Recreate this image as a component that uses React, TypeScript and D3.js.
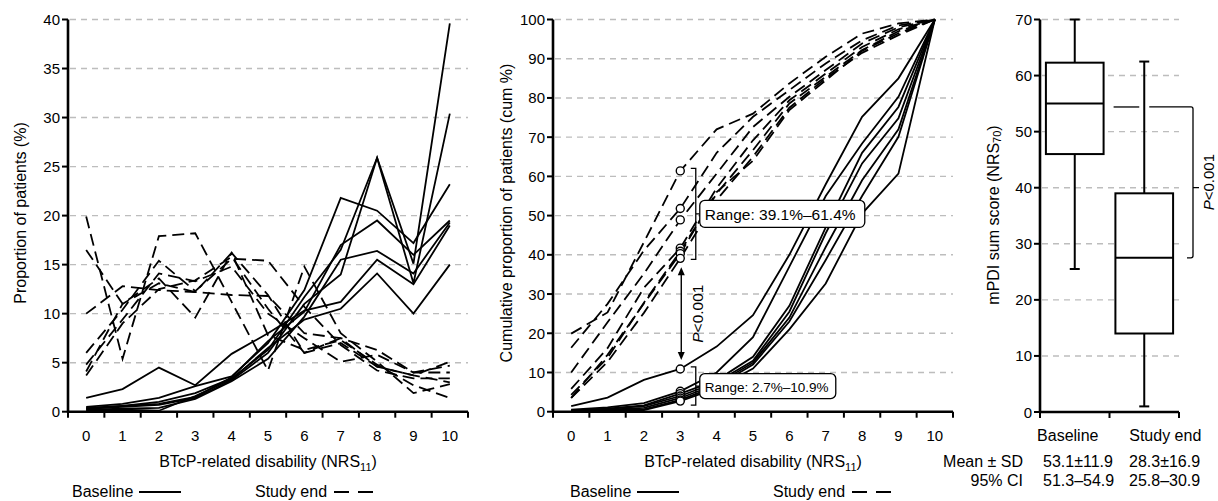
import React from 'react';
import * as d3 from 'd3';

// ---------------- DATA ----------------
const categories = [0, 1, 2, 3, 4, 5, 6, 7, 8, 9, 10];
const propYTicks = [0, 5, 10, 15, 20, 25, 30, 35, 40];
const cumYTicks = [0, 10, 20, 30, 40, 50, 60, 70, 80, 90, 100];
const boxYTicks = [0, 10, 20, 30, 40, 50, 60, 70];

// Proportion of patients (%) – baseline (solid)
const baselineProp = [
  [1.4, 2.3, 4.5, 2.7, 5.9, 8.0, 10.3, 11.2, 15.5, 13.0, 19.0],
  [0.5, 0.8, 1.4, 2.6, 3.6, 7.0, 12.4, 21.8, 20.5, 17.2, 23.2],
  [0.3, 0.6, 1.0, 1.9, 3.4, 6.3, 11.7, 16.5, 25.9, 15.1, 39.6],
  [0.3, 0.5, 0.7, 1.4, 3.2, 6.0, 11.0, 14.0, 25.9, 13.1, 30.4],
  [0.4, 0.6, 0.8, 1.5, 3.5, 7.2, 10.2, 17.0, 19.5, 16.0, 19.5],
  [0.2, 0.3, 0.4, 1.3, 3.1, 5.4, 9.7, 15.5, 16.4, 14.1, 19.3],
  [0.1, 0.2, 0.1, 1.6, 3.3, 6.5, 9.4, 10.5, 14.1, 10.0, 15.0],
];
// Proportion of patients (%) – study end (dashed)
const studyEndProp = [
  [19.9, 5.4, 17.9, 18.2, 11.2, 4.2, 14.8, 8.0, 5.1, 1.9, 2.8],
  [16.5, 11.0, 13.6, 9.6, 16.2, 11.9, 6.0, 7.0, 4.6, 3.7, 5.1],
  [10.0, 12.8, 12.4, 12.2, 11.9, 11.8, 8.0, 7.5, 6.3, 4.0, 4.7],
  [6.0, 10.4, 15.4, 12.3, 15.6, 15.4, 10.7, 6.8, 4.2, 3.4, 3.4],
  [4.8, 9.4, 14.1, 13.3, 14.8, 10.0, 7.5, 5.1, 5.8, 4.0, 4.0],
  [4.1, 11.0, 13.1, 12.2, 16.2, 7.8, 6.3, 7.3, 4.8, 2.7, 1.4],
  [3.7, 9.0, 12.5, 13.4, 15.8, 10.5, 6.0, 7.5, 4.6, 3.7, 3.0],
];
// Cumulative proportion (cum %) – baseline (solid)
const baselineCum = [
  [1.4, 3.6, 8.1, 10.9, 16.6, 24.6, 40.0, 58.0, 75.2, 85.0, 100],
  [0.5, 1.1, 2.2, 5.2, 10.0, 19.0, 37.0, 55.0, 68.4, 80.3, 100],
  [0.3, 0.8, 1.6, 4.6, 8.0, 14.0, 27.0, 47.0, 66.0, 77.7, 100],
  [0.3, 0.7, 1.4, 4.0, 7.5, 13.0, 25.5, 45.5, 63.3, 74.8, 100],
  [0.2, 0.5, 1.0, 3.5, 7.0, 12.5, 24.0, 42.0, 59.0, 72.0, 100],
  [0.1, 0.3, 0.6, 3.0, 6.5, 12.0, 23.0, 38.7, 55.0, 70.1, 100],
  [0.1, 0.2, 0.4, 2.7, 6.0, 11.0, 21.0, 32.7, 50.5, 60.7, 100],
];
// Cumulative proportion (cum %) – study end (dashed)
const studyEndCum = [
  [19.9, 25.3, 43.2, 61.4, 72.0, 76.0, 83.7, 90.5, 96.4, 99.0, 100],
  [16.3, 27.5, 41.1, 51.8, 66.0, 75.2, 82.0, 88.8, 94.7, 98.5, 100],
  [10.0, 22.8, 35.2, 48.9, 60.7, 72.6, 80.3, 87.1, 93.9, 98.0, 100],
  [5.8, 16.2, 31.6, 41.7, 57.0, 69.2, 79.4, 86.2, 93.0, 97.5, 100],
  [4.3, 13.7, 27.8, 40.9, 55.6, 66.7, 78.6, 85.4, 92.2, 97.0, 100],
  [3.5, 14.5, 27.6, 40.3, 56.0, 64.0, 76.9, 84.5, 92.0, 96.5, 100],
  [3.5, 12.7, 25.2, 39.1, 54.0, 65.0, 77.5, 85.0, 91.5, 96.0, 100],
];

// Box plot (mPDI sum score)
const boxCategories = ['Baseline', 'Study end'];
const boxMin = [25.5, 1];
const boxQ1 = [46, 14];
const boxMedian = [55, 27.5];
const boxQ3 = [62.3, 39];
const boxMax = [70, 62.5];
const meanSD = ['53.1±11.9', '28.3±16.9'];
const ci95 = ['51.3–54.9', '25.8–30.9'];

const highlightIndex = 3;

// ---------------- STYLE ----------------
const FONT = "'Liberation Sans', Arial, Helvetica, sans-serif";
const DASH = '12,6';
const GRID = '#bdbdbd';
const TICK_FS = 15;
const TITLE_FS = 16;

function XTitle({ cx, y }: { cx: number; y: number }) {
  return (
    <text x={cx} y={y} textAnchor="middle" fontSize={TITLE_FS} fontFamily={FONT}>
      BTcP-related disability (NRS
      <tspan fontSize={11} dy={4}>11</tspan>
      <tspan dy={-4}>)</tspan>
    </text>
  );
}

function Legend({ x, y, sx }: { x: number; y: number; sx: number }) {
  return (
    <g fontFamily={FONT} fontSize={TITLE_FS}>
      <text x={x} y={y}>Baseline</text>
      <line x1={x + 67} x2={x + 109} y1={y - 5} y2={y - 5} stroke="#000" strokeWidth={2.2} />
      <text x={sx} y={y}>Study end</text>
      <line x1={sx + 79} x2={sx + 120} y1={y - 5} y2={y - 5} stroke="#000" strokeWidth={2.2} strokeDasharray="15,9" />
    </g>
  );
}

function LinePanel({
  x0, x1, yMax, yTicks, solid, dashed, yTitle, titleX, showCircles,
}: {
  x0: number; x1: number; yMax: number; yTicks: number[];
  solid: number[][]; dashed: number[][]; yTitle: string; titleX: number; showCircles?: boolean;
}) {
  const x = d3.scaleBand<number>().domain(categories).range([x0, x1]).padding(0);
  const bw = x.bandwidth();
  const cx = (c: number) => (x(c) as number) + bw / 2;
  const y = d3.scaleLinear().domain([0, yMax]).range([411.7, 19.5]);
  const line = d3.line<number>().x((_, i) => cx(categories[i])).y((v) => y(v));
  const boundaries = [...categories.map((c) => x(c) as number), x1];

  return (
    <g>
      {yTicks.filter((t) => t > 0).map((t) => (
        <line key={'g' + t} x1={x0 + 2} x2={x1} y1={y(t)} y2={y(t)} stroke={GRID} strokeWidth={1.4} strokeDasharray="6,5" />
      ))}
      {dashed.map((s, i) => (
        <path key={'d' + i} d={line(s) || ''} fill="none" stroke="#000" strokeWidth={1.8} strokeDasharray={DASH} />
      ))}
      {solid.map((s, i) => (
        <path key={'s' + i} d={line(s) || ''} fill="none" stroke="#000" strokeWidth={1.8} />
      ))}
      {showCircles && [...solid, ...dashed].map((s, i) => (
        <circle key={'c' + i} cx={cx(categories[highlightIndex])} cy={y(s[highlightIndex])} r={4} fill="#fff" stroke="#000" strokeWidth={1.4} />
      ))}
      {/* axes */}
      <line x1={x0} x2={x0} y1={y(0) + 1} y2={y(yMax)} stroke="#000" strokeWidth={2.6} />
      <line x1={x0} x2={x1} y1={y(0)} y2={y(0)} stroke="#000" strokeWidth={2.6} />
      {yTicks.map((t) => (
        <g key={'yt' + t}>
          <line x1={x0 - 6} x2={x0} y1={y(t)} y2={y(t)} stroke="#000" strokeWidth={2} />
          <text x={x0 - 8} y={y(t)} textAnchor="end" dominantBaseline="central" fontSize={TICK_FS} fontFamily={FONT}>{t}</text>
        </g>
      ))}
      {boundaries.map((b, i) => (
        <line key={'xt' + i} x1={b} x2={b} y1={y(0)} y2={y(0) + 6} stroke="#000" strokeWidth={2} />
      ))}
      {categories.map((c) => (
        <text key={'xl' + c} x={cx(c)} y={435} textAnchor="middle" dominantBaseline="central" fontSize={TICK_FS} fontFamily={FONT}>{c}</text>
      ))}
      <text transform={`translate(${titleX},${213}) rotate(-90)`} textAnchor="middle" dominantBaseline="central" fontSize={TITLE_FS} fontFamily={FONT}>{yTitle}</text>
    </g>
  );
}

function CumAnnotations({ x0, x1 }: { x0: number; x1: number }) {
  const x = d3.scaleBand<number>().domain(categories).range([x0, x1]).padding(0);
  const cx = (x(highlightIndex) as number) + x.bandwidth() / 2;
  const y = d3.scaleLinear().domain([0, 100]).range([411.7, 19.5]);
  const seVals = studyEndCum.map((s) => s[highlightIndex]);
  const blVals = baselineCum.map((s) => s[highlightIndex]);
  const seTop = y(d3.max(seVals) as number) - 2.5;
  const seBot = y(d3.min(seVals) as number) + 1;
  const blTop = y(d3.max(blVals) as number) - 2;
  const blBot = y(d3.min(blVals) as number) + 4;
  const bx = cx + 15.5;
  const seMid = (seTop + seBot) / 2;
  const blMid = (blTop + blBot) / 2;
  const arrowX = cx + 1;
  const aTop = y(d3.min(seVals) as number) + 9;
  const aBot = y(d3.max(blVals) as number) - 9;
  return (
    <g fontFamily={FONT}>
      <path d={`M${bx - 5},${seTop}H${bx}V${seBot}H${bx - 5}M${bx},${seMid}H${bx + 4}`} fill="none" stroke="#000" strokeWidth={1.3} />
      <path d={`M${bx - 5},${blTop}H${bx}V${blBot}H${bx - 5}M${bx},${blMid}H${bx + 4}`} fill="none" stroke="#000" strokeWidth={1.3} />
      <rect x={bx + 4} y={seMid - 13.5} width={165} height={27} rx={5} fill="#fff" stroke="#000" strokeWidth={1.3} />
      <text x={bx + 9} y={seMid + 1} dominantBaseline="central" fontSize={15.5}>Range: 39.1%–61.4%</text>
      <rect x={bx + 4} y={blMid - 12.5} width={136} height={25} rx={5} fill="#fff" stroke="#000" strokeWidth={1.3} />
      <text x={bx + 9} y={blMid + 1} dominantBaseline="central" fontSize={13.5}>Range: 2.7%–10.9%</text>
      <line x1={arrowX} x2={arrowX} y1={aTop + 6} y2={aBot - 6} stroke="#000" strokeWidth={1.4} />
      <path d={`M${arrowX},${aTop}L${arrowX - 3.5},${aTop + 8}L${arrowX + 3.5},${aTop + 8}Z`} fill="#000" />
      <path d={`M${arrowX},${aBot}L${arrowX - 3.5},${aBot - 8}L${arrowX + 3.5},${aBot - 8}Z`} fill="#000" />
      <text transform={`translate(${cx + 17},${(aTop + aBot) / 2}) rotate(-90)`} textAnchor="middle" dominantBaseline="central" fontSize={15.5}>
        <tspan fontStyle="italic">P</tspan>&lt;0.001
      </text>
    </g>
  );
}

function BoxPanel() {
  const x0 = 1040;
  const x1 = 1179;
  const x = d3.scaleBand<string>().domain(boxCategories).range([x0, x1]).padding(0);
  const bw = x.bandwidth();
  const y = d3.scaleLinear().domain([0, 70]).range([412, 19.5]);
  const boxW = bw * 0.83;
  const cxs = boxCategories.map((c) => (x(c) as number) + bw / 2);
  const labelShift = [-7, 21];
  const bracketX = 1193;
  const topY = y(54.4);
  const botY = y(boxMedian[1]);
  const midY = y(40);
  return (
    <g fontFamily={FONT}>
      {boxYTicks.filter((t) => t > 0).map((t) => (
        <line key={'g' + t} x1={x0 + 2} x2={x1} y1={y(t)} y2={y(t)} stroke={GRID} strokeWidth={1.4} strokeDasharray="6,5" />
      ))}
      {boxCategories.map((c, i) => {
        const cx = cxs[i];
        return (
          <g key={c} stroke="#000" strokeWidth={2} fill="#fff">
            <line x1={cx} x2={cx} y1={y(boxMax[i])} y2={y(boxMin[i])} />
            <line x1={cx - 5} x2={cx + 5} y1={y(boxMax[i])} y2={y(boxMax[i])} />
            <line x1={cx - 5} x2={cx + 5} y1={y(boxMin[i])} y2={y(boxMin[i])} />
            <rect x={cx - boxW / 2} y={y(boxQ3[i])} width={boxW} height={y(boxQ1[i]) - y(boxQ3[i])} />
            <line x1={cx - boxW / 2} x2={cx + boxW / 2} y1={y(boxMedian[i])} y2={y(boxMedian[i])} />
          </g>
        );
      })}
      {/* p-value bracket */}
      <line x1={cxs[0] + boxW / 2 + 10} x2={cxs[1] - 5} y1={topY} y2={topY} stroke="#000" strokeWidth={1.3} />
      <path d={`M${cxs[1] + 5},${topY}H${bracketX - 2}Q${bracketX},${topY} ${bracketX},${topY + 2}V${botY - 2}Q${bracketX},${botY} ${bracketX - 2},${botY}H${bracketX - 6}M${bracketX},${midY}H${bracketX + 6}`} fill="none" stroke="#000" strokeWidth={1.3} />
      <text transform={`translate(${1208},${y(41)}) rotate(-90)`} textAnchor="middle" dominantBaseline="central" fontSize={15}>
        <tspan fontStyle="italic">P</tspan>&lt;0.001
      </text>
      {/* axes */}
      <line x1={x0} x2={x0} y1={y(0) + 1} y2={y(70)} stroke="#000" strokeWidth={2.6} />
      <line x1={x0} x2={x1} y1={y(0)} y2={y(0)} stroke="#000" strokeWidth={2.6} />
      {boxYTicks.map((t) => (
        <g key={'yt' + t}>
          <line x1={x0 - 6} x2={x0} y1={y(t)} y2={y(t)} stroke="#000" strokeWidth={2} />
          <text x={x0 - 8} y={y(t)} textAnchor="end" dominantBaseline="central" fontSize={TICK_FS}>{t}</text>
        </g>
      ))}
      {[...boxCategories.map((c) => x(c) as number), x1].map((b, i) => (
        <line key={'xt' + i} x1={b} x2={b} y1={y(0)} y2={y(0) + 6} stroke="#000" strokeWidth={2} />
      ))}
      {boxCategories.map((c, i) => (
        <text key={'xl' + c} x={cxs[i] + labelShift[i]} y={435} textAnchor="middle" dominantBaseline="central" fontSize={TITLE_FS}>{c}</text>
      ))}
      <text transform={`translate(${993},${215}) rotate(-90)`} textAnchor="middle" dominantBaseline="central" fontSize={TITLE_FS}>
        mPDI sum score (NRS
        <tspan fontSize={11} dy={4}>70</tspan>
        <tspan dy={-4}>)</tspan>
      </text>
      {/* stats */}
      <text x={1023} y={467} textAnchor="end" fontSize={TITLE_FS}>Mean ± SD</text>
      <text x={1023} y={486} textAnchor="end" fontSize={TITLE_FS}>95% CI</text>
      {meanSD.map((m, i) => (
        <text key={'m' + i} x={[1043, 1129][i]} y={467} fontSize={TITLE_FS}>{m}</text>
      ))}
      {ci95.map((m, i) => (
        <text key={'c' + i} x={[1043, 1129][i]} y={486} fontSize={TITLE_FS}>{m}</text>
      ))}
    </g>
  );
}

export default function App() {
  return (
    <svg width={1218} height={501} style={{ position: 'absolute', left: 0, top: 0, background: '#fff' }} fontFamily={FONT}>
      <rect x={0} y={0} width={1218} height={501} fill="#fff" />
      <LinePanel x0={68} x1={468} yMax={40} yTicks={propYTicks} solid={baselineProp} dashed={studyEndProp}
        yTitle="Proportion of patients (%)" titleX={20} />
      <XTitle cx={268} y={467} />
      <Legend x={72} y={497} sx={255} />

      <LinePanel x0={553} x1={953} yMax={100} yTicks={cumYTicks} solid={baselineCum} dashed={studyEndCum}
        yTitle="Cumulative proportion of patients (cum %)" titleX={506} showCircles />
      <CumAnnotations x0={553} x1={953} />
      <XTitle cx={753} y={467} />
      <Legend x={570} y={497} sx={773} />

      <BoxPanel />
    </svg>
  );
}
